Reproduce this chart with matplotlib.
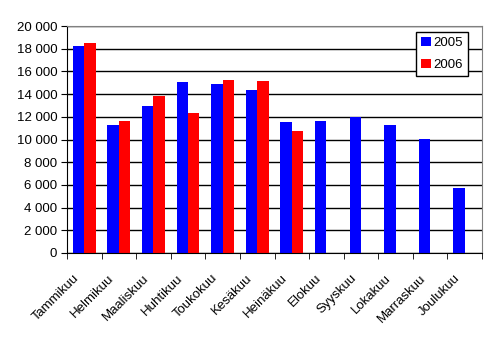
import numpy as np
import matplotlib.pyplot as plt
import matplotlib.transforms as mtransforms
from matplotlib.ticker import FuncFormatter

months = ['Tammikuu', 'Helmikuu', 'Maaliskuu', 'Huhtikuu', 'Toukokuu', 'Kesäkuu',
          'Heinäkuu', 'Elokuu', 'Syyskuu', 'Lokakuu', 'Marraskuu', 'Joulukuu']
v2005 = [18250, 11300, 12950, 15070, 14900, 14370, 11550, 11640, 11960, 11290, 10060, 5750]
v2006 = [18500, 11650, 13850, 12350, 15250, 15160, 10760, np.nan, np.nan, np.nan, np.nan, np.nan]

plt.rcParams['font.family'] = ['Liberation Sans', 'DejaVu Sans']
plt.rcParams['font.size'] = 9.5

fig = plt.figure(figsize=(4.97, 3.38), dpi=100)
ax = fig.add_axes([0.1348, 0.2515, 0.8352, 0.6715])

x = np.arange(len(months))
w = 0.33
ax.bar(x - w / 2, v2005, w, color='#0000ff', label='2005')
ax.bar(x + w / 2, v2006, w, color='#ff0000', label='2006')

ax.set_xlim(-0.5, len(months) - 0.5)
ax.set_ylim(0, 20000)
ax.set_yticks(range(0, 20001, 2000))
ax.yaxis.set_major_formatter(FuncFormatter(lambda v, p: f'{int(v):,}'.replace(',', ' ')))
ax.yaxis.grid(True, color='black', linewidth=1)
ax.set_axisbelow(True)

ax.set_xticks(x)
ax.set_xticklabels(months, rotation=45, ha='right', rotation_mode='anchor')
ax.set_xticks(np.arange(-0.5, len(months)), minor=True)
ax.tick_params(axis='x', which='major', length=0, pad=8)
ax.tick_params(axis='x', which='minor', length=4, direction='out', color='black')
ax.tick_params(axis='y', length=4, direction='out', color='black', pad=3)

# nudge the month labels left/down like the original
shift = mtransforms.ScaledTranslation(-0.11, -0.08, fig.dpi_scale_trans)
for lbl in ax.get_xticklabels():
    lbl.set_transform(lbl.get_transform() + shift)

for s in ['top', 'right']:
    ax.spines[s].set_color('#808080')
for s in ['left', 'bottom']:
    ax.spines[s].set_color('black')

leg = ax.legend(loc='upper right', bbox_to_anchor=(0.966, 0.974), fancybox=False,
                framealpha=1, edgecolor='black', handlelength=0.7, handleheight=0.7,
                handletextpad=0.2, borderpad=0.4, labelspacing=0.7, borderaxespad=0)
leg.get_frame().set_linewidth(1)

fig.savefig('out.png', dpi=100)
